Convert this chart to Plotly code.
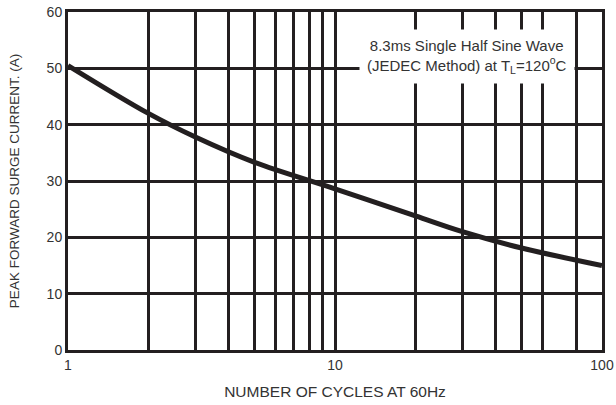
import plotly.graph_objects as go

# surge curve
cycles = [1, 2, 3, 5, 10, 20, 30, 50, 100]
surge_current = [50.5, 42.0, 37.8, 33.3, 28.6, 23.8, 21.0, 18.1, 15.0]

x_ticks = [1, 10, 100]
x_minor_grid = [2, 3, 4, 5, 6, 7, 8, 9, 20, 30, 40, 50, 60, 80]
y_ticks = [0, 10, 20, 30, 40, 50, 60]

FONT = "Arial, Liberation Sans, sans-serif"
INK = "#231f20"
TXT = "#333333"

fig = go.Figure()
fig.add_trace(go.Scatter(
    x=cycles, y=surge_current, mode="lines",
    line=dict(color=INK, width=5, shape="spline", smoothing=1.0),
    showlegend=False, hoverinfo="skip",
))

fig.update_layout(
    width=616, height=405,
    margin=dict(l=68, r=14, t=12, b=55),
    paper_bgcolor="white", plot_bgcolor="white",
    font=dict(family=FONT, color=TXT),
    xaxis=dict(
        type="log", range=[0, 2], automargin=False,
        tickmode="array", tickvals=x_ticks, ticktext=[str(v) for v in x_ticks],
        tickfont=dict(size=14, color=TXT), ticklabeloverflow="allow",
        showgrid=True, gridcolor=INK, gridwidth=3,
        minor=dict(tickmode="array", tickvals=x_minor_grid, showgrid=True,
                   gridcolor=INK, gridwidth=3, ticks=""),
        showline=True, linecolor=INK, linewidth=3, mirror=True,
        ticks="", zeroline=False,
        title=dict(text="NUMBER OF CYCLES AT 60Hz", font=dict(size=15.5, color=TXT), standoff=15),
    ),
    yaxis=dict(
        range=[0, 60], tickvals=y_ticks, automargin=False,
        tickfont=dict(size=14, color=TXT), ticklabeloverflow="allow",
        showgrid=True, gridcolor=INK, gridwidth=3,
        showline=True, linecolor=INK, linewidth=3, mirror=True,
        ticks="", zeroline=False,
        title=dict(text="PEAK FORWARD SURGE CURRENT. (A)", font=dict(size=13.5, color=TXT), standoff=24),
    ),
    annotations=[dict(
        text="8.3ms Single Half Sine Wave<br>(JEDEC Method) at T<sub>L</sub>=120<sup>o</sup>C",
        xref="paper", yref="paper", x=0.95, y=0.95,
        xanchor="right", yanchor="top", align="center",
        showarrow=False, bgcolor="white", borderpad=7,
        font=dict(family=FONT, size=15, color=TXT),
    )],
)

# drop the page's default 8px body margin so the figure sits at the window corner
fig.write_html(
    "out.html",
    config={"displayModeBar": False},
    post_script="document.body.style.margin='0';",
)
